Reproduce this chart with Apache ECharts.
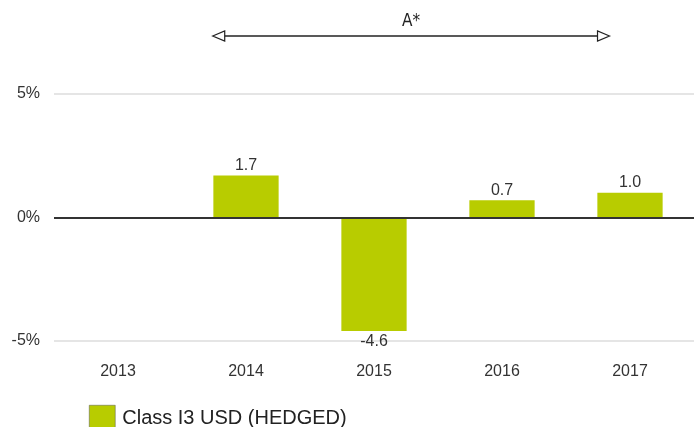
<!DOCTYPE html>
<html><head><meta charset="utf-8">
<script src="https://cdn.jsdelivr.net/npm/echarts@6/dist/echarts.min.js"></script>
<style>html,body{margin:0;padding:0;background:#fff}#c{width:694px;height:427px}</style>
</head><body><div id="c"></div>
<script>
const categories = ['2013','2014','2015','2016','2017'];
const values = [null, 1.7, -4.6, 0.7, 1.0];
const seriesName = 'Class I3 USD (HEDGED)';
const yTicks = [-5, 0, 5];
const periodLabel = 'A*';
const periodStart = '2014';
const periodEnd = '2017';

const chart = echarts.init(document.getElementById('c'));
const font = '"Liberation Sans", Arial, Helvetica, sans-serif';
chart.setOption({
  animation: false,
  grid: {left: 54, right: 0, top: 94, bottom: 86},
  legend: {
    left: 89, top: 405, padding: 0, itemWidth: 26, itemHeight: 26, itemGap: 10, icon: 'rect',
    textStyle: {fontFamily: font, fontSize: 20, color: '#222', padding: [0, 0, 0, 2]},
    itemStyle: {borderColor: '#555', borderWidth: 0.5},
    data: [seriesName]
  },
  xAxis: {
    type: 'category', data: categories,
    axisLine: {show: false}, axisTick: {show: false},
    axisLabel: {fontFamily: font, fontSize: 16, color: '#333', margin: 23}
  },
  yAxis: {
    type: 'value', min: -5, max: 5, interval: 5,
    axisLine: {show: false}, axisTick: {show: false},
    axisLabel: {fontFamily: font, fontSize: 16, color: '#333', margin: 14,
      formatter: v => v + '%'},
    splitLine: {lineStyle: {color: ['#dcdcdc', 'transparent', '#dcdcdc'], width: 1.5}}
  },
  series: [{
    name: seriesName, type: 'bar', data: values, barWidth: '51%',
    itemStyle: {color: '#b8cc00'},
    label: {show: true, fontFamily: font, fontSize: 16, color: '#333',
      position: 'outside', distance: 2,
      formatter: p => p.value == null ? '' : p.value.toFixed(1)},
    markLine: {
      silent: true, symbol: 'none', label: {show: false},
      lineStyle: {color: '#333', width: 2, type: 'solid'},
      data: [{yAxis: 0}]
    }
  }]
});

function drawArrow() {
  const xs = chart.convertToPixel({xAxisIndex: 0}, periodStart);
  const xe = chart.convertToPixel({xAxisIndex: 0}, periodEnd);
  const step = chart.convertToPixel({xAxisIndex: 0}, categories[1]) - chart.convertToPixel({xAxisIndex: 0}, categories[0]);
  const x1 = xs - step * 0.26, x2 = xe - step * 0.16, y = 36;
  chart.setOption({graphic: [
    {type: 'line', shape: {x1: x1 + 10, y1: y, x2: x2 - 10, y2: y}, style: {stroke: '#222', lineWidth: 1.3}},
    {type: 'polygon', shape: {points: [[x1, y], [x1 + 12, y - 5], [x1 + 12, y + 5]]}, style: {fill: '#fff', stroke: '#222', lineWidth: 1.2}},
    {type: 'polygon', shape: {points: [[x2, y], [x2 - 12, y - 5], [x2 - 12, y + 5]]}, style: {fill: '#fff', stroke: '#222', lineWidth: 1.2}},
    {type: 'text', x: (x1 + x2) / 2, y: 22, style: {text: periodLabel, fontFamily: '"DejaVu Sans Condensed", "Liberation Sans Narrow", sans-serif', fontSize: 17, fill: '#222', align: 'center', verticalAlign: 'middle'}}
  ]});
}
drawArrow();
</script></body></html>
